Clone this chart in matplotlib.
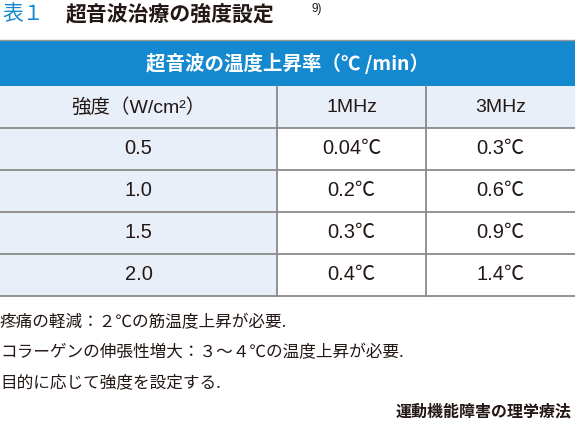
import matplotlib.pyplot as plt
from matplotlib.patches import Rectangle

plt.rcParams['font.family'] = ['Noto Sans CJK JP', 'DejaVu Sans']

# table data
header_title = "超音波の温度上昇率（℃ /min）"
col_labels = ["強度（W/cm²）", "1MHz", "3MHz"]
intensity = ["0.5", "1.0", "1.5", "2.0"]
rise_1mhz = ["0.04℃", "0.2℃", "0.3℃", "0.4℃"]
rise_3mhz = ["0.3℃", "0.6℃", "0.9℃", "1.4℃"]
notes = ["疼痛の軽減：２℃の筋温度上昇が必要.",
         "コラーゲンの伸張性増大：３～４℃の温度上昇が必要.",
         "目的に応じて強度を設定する."]
source = "運動機能障害の理学療法"

BLUE = '#1589cf'
LIGHT = '#e9eff9'
LINE = '#8a8a8a'
TXT = '#231815'
CELL_FONT = ['Liberation Sans', 'Noto Sans CJK JP']

fig = plt.figure(figsize=(5.75, 4.37), dpi=100)
ax = fig.add_axes([0, 0, 1, 1])
ax.set_xlim(0, 575)
ax.set_ylim(437, 0)
ax.axis('off')

# title
ax.text(2, 14, "表１", color=BLUE, fontsize=15, va='center')
ax.text(66, 14, "超音波治療の強度設定", color=TXT, fontsize=15, va='center', fontweight='bold')
ax.text(312, 9, "9)", color=TXT, fontsize=8.5, va='center', family=CELL_FONT)

# blue header band
ax.add_patch(Rectangle((0, 40), 575, 46, color=BLUE, lw=0))
ax.plot([0, 575], [40, 40], color='#999999', lw=1)
ax.text(287, 63, header_title, color='white', fontsize=14, ha='center', va='center', fontweight='bold')

col_x = [0, 277, 426, 575]
row_top = 86
row_h = 42
n_rows = len(intensity) + 1

# backgrounds: header row and first column light
ax.add_patch(Rectangle((0, row_top), 575, row_h, color=LIGHT, lw=0))
ax.add_patch(Rectangle((0, row_top), col_x[1], row_h * n_rows, color=LIGHT, lw=0))

# grid lines
for i in range(1, n_rows + 1):
    y = row_top + i * row_h
    ax.plot([0, 575], [y, y], color=LINE, lw=1.3)
for x in col_x[1:3]:
    ax.plot([x, x], [row_top, row_top + n_rows * row_h], color=LINE, lw=1.3)

centers = [(col_x[j] + col_x[j + 1]) / 2 for j in range(3)]
for j, lab in enumerate(col_labels):
    ax.text(centers[j], row_top + row_h / 2, lab, color=TXT, fontsize=14, ha='center', va='center',
            family=CELL_FONT)
for i in range(len(intensity)):
    y = row_top + (i + 1.5) * row_h
    for j, val in enumerate([intensity[i], rise_1mhz[i], rise_3mhz[i]]):
        ax.text(centers[j], y, val, color=TXT, fontsize=14.5, ha='center', va='center', family=CELL_FONT)

# notes
for k, note in enumerate(notes):
    ax.text(0, 323 + k * 30, note, color=TXT, fontsize=12, va='center')
ax.text(572, 411, source, color=TXT, fontsize=11.5, ha='right', va='center', fontweight='bold')

fig.savefig('out.png', dpi=100)
